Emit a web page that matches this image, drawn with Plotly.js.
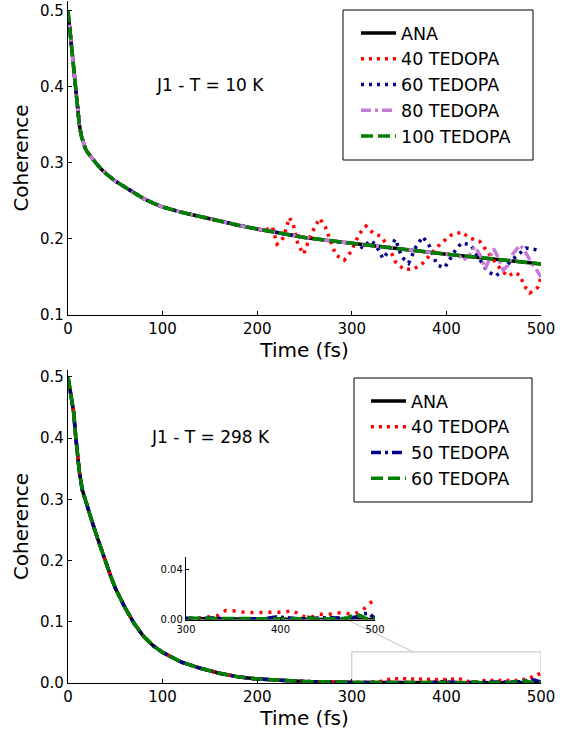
<!DOCTYPE html>
<html>
<head>
<meta charset="utf-8">
<script src="https://cdn.plot.ly/plotly-3.0.1.min.js"></script>
<style>html,body{margin:0;padding:0;background:#fff;}#chart{width:562px;height:731px;}</style>
</head>
<body>
<div id="chart"></div>
<script>
// ---------- DATA: J1 - T = 10 K ----------
const timeAna10 = [0,2,4,6,8,10,12,14,16,18,20,25,30,35,40,50,60,70,80,90,100,120,140,160,180,200,225,250,275,300,350,400,450,500];
const ana10     = [0.500,0.476,0.452,0.426,0.398,0.372,0.350,0.336,0.326,0.320,0.315,0.306,0.299,0.292,0.286,0.276,0.268,0.260,0.253,0.247,0.242,0.235,0.229,0.223,0.218,0.213,0.207,0.202,0.198,0.194,0.187,0.180,0.173,0.167];

// 40 TEDOPA (10 K): deviates from ANA after ~207 fs
const time40_10 = [207,213,216,221,225,228,232,234,238,243,249,256,261,266,272,283,292,299,308,315,323,330,339,346,355,365,375,389,397,405,416,425,435,446,458,465,472,478,482,488,494,497,500];
const ted40_10  = [0.211,0.214,0.216,0.193,0.196,0.203,0.222,0.228,0.219,0.193,0.180,0.203,0.216,0.227,0.216,0.179,0.172,0.183,0.207,0.217,0.207,0.204,0.190,0.170,0.160,0.160,0.168,0.188,0.197,0.205,0.209,0.201,0.197,0.179,0.159,0.151,0.156,0.152,0.139,0.129,0.133,0.137,0.150];

// 60 TEDOPA (10 K): deviates after ~305 fs
const time60_10 = [305,312,319,325,333,340,346,353,360,368,375,382,390,398,409,416,426,432,443,452,460,468,476,484,494,500];
const ted60_10  = [0.193,0.188,0.198,0.193,0.174,0.186,0.200,0.176,0.168,0.190,0.203,0.191,0.166,0.162,0.184,0.195,0.192,0.179,0.158,0.151,0.160,0.171,0.179,0.188,0.186,0.183];

// 80 TEDOPA (10 K): deviates after ~405 fs
const time80_10 = [405,412,418,424,430,436,441,445,450,455,460,465,470,478,484,490,495,500];
const ted80_10  = [0.179,0.180,0.172,0.178,0.190,0.178,0.161,0.172,0.187,0.175,0.159,0.165,0.180,0.192,0.182,0.168,0.160,0.150];

// 100 TEDOPA (10 K) coincides with ANA
const time100_10 = timeAna10;
const ted100_10  = ana10;

// ---------- DATA: J1 - T = 298 K ----------
const timeAna298 = [0,2,4,6,8,10,12,15,20,25,30,35,40,45,50,60,70,80,90,100,120,140,160,180,200,225,250,300,350,400,450,500];
const ana298     = [0.500,0.482,0.463,0.442,0.405,0.372,0.345,0.316,0.289,0.266,0.242,0.219,0.197,0.175,0.155,0.124,0.097,0.076,0.061,0.050,0.034,0.024,0.016,0.010,0.0065,0.004,0.0025,0.001,0.0005,0.0003,0.0002,0.0001];

// 40 TEDOPA (298 K): deviates after ~300 fs
const time40_298 = [310,323,333,342,353,363,373,384,394,404,413,422,431,441,451,460,468,477,486,494,500];
const ted40_298  = [0.0008,0.002,0.003,0.0072,0.0068,0.0056,0.0055,0.0057,0.0057,0.0058,0.0073,0.0027,0.0015,0.0041,0.0041,0.0055,0.005,0.0042,0.0068,0.0128,0.016];

// 50 TEDOPA (298 K)
const time50_298 = [320,330,340,380,395,405,420,450,470,480,487,493,497,500];
const ted50_298  = [0.0008,0.0015,0.0005,0.0005,0.002,0.0015,0.0005,0.0015,0.001,0.002,0.0045,0.005,0.003,0.001];

// 60 TEDOPA (298 K)
const time60_298 = [420,428,436,470,478,485,490,500];
const ted60_298  = [0.0005,0.002,0.0005,0.0008,0.004,0.003,0.0008,0.0008];

const yTicksTop = [0.1,0.2,0.3,0.4,0.5];
const yTicksBot = [0.0,0.1,0.2,0.3,0.4,0.5];
const xTicks    = [0,100,200,300,400,500];
const xTicksInset = [300,400,500];
const yTicksInset = [0.00,0.04];

// join ANA values before a start time with the read TEDOPA values
function joined(tAna, vAna, tDev, vDev) {
  const t = [], v = [];
  for (let i = 0; i < tAna.length; i++) if (tAna[i] < tDev[0]) { t.push(tAna[i]); v.push(vAna[i]); }
  return { x: t.concat(tDev), y: v.concat(vDev) };
}

const RED = '#ff0000', NAVY = '#00008b', ORCHID = '#c77bd9', GREEN = '#008000';
const LW = 3.5;

const s40_10 = joined(timeAna10, ana10, time40_10, ted40_10);
const s60_10 = joined(timeAna10, ana10, time60_10, ted60_10);
const s80_10 = joined(timeAna10, ana10, time80_10, ted80_10);
const s40_298 = joined(timeAna298, ana298, time40_298, ted40_298);
const s50_298 = joined(timeAna298, ana298, time50_298, ted50_298);
const s60_298 = joined(timeAna298, ana298, time60_298, ted60_298);

const traces = [];
// top panel
traces.push({x: timeAna10, y: ana10, xaxis:'x', yaxis:'y', mode:'lines', name:'ANA', legend:'legend', line:{color:'#000', width:LW}});
traces.push({x: s40_10.x, y: s40_10.y, xaxis:'x', yaxis:'y', mode:'lines', name:'40 TEDOPA', legend:'legend', line:{color:RED, width:LW, dash:'3px,5px'}});
traces.push({x: s60_10.x, y: s60_10.y, xaxis:'x', yaxis:'y', mode:'lines', name:'60 TEDOPA', legend:'legend', line:{color:NAVY, width:LW, dash:'3px,5px'}});
traces.push({x: s80_10.x, y: s80_10.y, xaxis:'x', yaxis:'y', mode:'lines', name:'80 TEDOPA', legend:'legend', line:{color:ORCHID, width:LW, dash:'10px,4px,3px,4px'}});
traces.push({x: time100_10, y: ted100_10, xaxis:'x', yaxis:'y', mode:'lines', name:'100 TEDOPA', legend:'legend', line:{color:GREEN, width:LW, dash:'12px,5px'}});

// bottom panel
traces.push({x: timeAna298, y: ana298, xaxis:'x2', yaxis:'y2', mode:'lines', name:'ANA', legend:'legend2', line:{color:'#000', width:LW}});
traces.push({x: s40_298.x, y: s40_298.y, xaxis:'x2', yaxis:'y2', mode:'lines', name:'40 TEDOPA', legend:'legend2', line:{color:RED, width:LW, dash:'3px,5px'}});
traces.push({x: s50_298.x, y: s50_298.y, xaxis:'x2', yaxis:'y2', mode:'lines', name:'50 TEDOPA', legend:'legend2', line:{color:NAVY, width:LW, dash:'10px,4px,3px,4px'}});
traces.push({x: s60_298.x, y: s60_298.y, xaxis:'x2', yaxis:'y2', mode:'lines', name:'60 TEDOPA', legend:'legend2', line:{color:GREEN, width:LW, dash:'12px,5px'}});

// inset (same bottom-panel data)
traces.push({x: timeAna298, y: ana298, xaxis:'x3', yaxis:'y3', mode:'lines', showlegend:false, line:{color:'#000', width:3}});
traces.push({x: s40_298.x, y: s40_298.y, xaxis:'x3', yaxis:'y3', mode:'lines', showlegend:false, line:{color:RED, width:3.5, dash:'3px,6px'}});
traces.push({x: s50_298.x, y: s50_298.y, xaxis:'x3', yaxis:'y3', mode:'lines', showlegend:false, line:{color:NAVY, width:3.5, dash:'10px,4px,3px,4px'}});
traces.push({x: s60_298.x, y: s60_298.y, xaxis:'x3', yaxis:'y3', mode:'lines', showlegend:false, line:{color:GREEN, width:3.5, dash:'12px,5px'}});

const FONT = 'DejaVu Sans, Liberation Sans, sans-serif';
const W = 562, H = 731;
const px = v => v / W;
const py = v => (H - v) / H;

const axBase = {
  showline:true, linecolor:'#000', linewidth:1.2, showgrid:false, zeroline:false,
  ticks:'inside', ticklen:4, tickcolor:'#000', tickwidth:1,
  tickfont:{family:FONT, size:15, color:'#000'}
};

const legBase = {xanchor:'left', yanchor:'top', bgcolor:'rgba(0,0,0,0)', borderwidth:0,
  font:{family:FONT, size:17.5, color:'#000'}, traceorder:'normal', itemwidth:35};

const layout = {
  width: W, height: H,
  margin:{l:0, r:0, t:0, b:0},
  paper_bgcolor:'#fff', plot_bgcolor:'rgba(0,0,0,0)',
  font:{family:FONT, color:'#000'},
  xaxis: Object.assign({}, axBase, {domain:[px(68), px(541)], anchor:'y', range:[0,500], tickvals:xTicks,
    title:{text:'Time (fs)', font:{family:FONT, size:20, color:'#000'}, standoff:2}}),
  yaxis: Object.assign({}, axBase, {domain:[py(315), py(1)], anchor:'x', range:[0.1,0.5128], tickvals:yTicksTop, ticktext:yTicksTop.map(v=>v.toFixed(1)),
    title:{text:'Coherence', font:{family:FONT, size:20, color:'#000'}, standoff:6}}),
  xaxis2: Object.assign({}, axBase, {domain:[px(68), px(541)], anchor:'y2', range:[0,500], tickvals:xTicks,
    title:{text:'Time (fs)', font:{family:FONT, size:20, color:'#000'}, standoff:2}}),
  yaxis2: Object.assign({}, axBase, {domain:[py(683), py(370)], anchor:'x2', range:[0,0.5114], tickvals:yTicksBot, ticktext:yTicksBot.map(v=>v.toFixed(1)),
    title:{text:'Coherence', font:{family:FONT, size:20, color:'#000'}, standoff:6}}),
  xaxis3: Object.assign({}, axBase, {domain:[px(186), px(375)], anchor:'y3', range:[300,500], tickvals:xTicksInset, ticklen:3,
    tickfont:{family:FONT, size:10, color:'#000'}}),
  yaxis3: Object.assign({}, axBase, {domain:[py(619.5), py(557)], anchor:'x3', range:[0,0.05], tickvals:yTicksInset, ticktext:yTicksInset.map(v=>v.toFixed(2)), ticklen:3,
    tickfont:{family:FONT, size:10, color:'#000'}}),
  legend: Object.assign({}, legBase, {x:px(356), y:py(15)}),
  legend2: Object.assign({}, legBase, {x:px(366), y:py(383)}),
  annotations:[
    {text:'J1 - T = 10 K', xref:'paper', yref:'paper', x:px(210), y:py(85), xanchor:'center', yanchor:'middle', showarrow:false, font:{family:FONT, size:17, color:'#000'}},
    {text:'J1 - T = 298 K', xref:'paper', yref:'paper', x:px(210), y:py(437), xanchor:'center', yanchor:'middle', showarrow:false, font:{family:FONT, size:17, color:'#000'}}
  ],
  shapes:[
    {type:'rect', xref:'x2', yref:'y2', x0:300, x1:500, y0:0, y1:0.0507, line:{color:'#cccccc', width:1.2}, fillcolor:'rgba(0,0,0,0)', layer:'below'},
    {type:'line', xref:'paper', yref:'paper', x0:px(346), y0:py(619), x1:px(413), y1:py(652), line:{color:'#cccccc', width:1.2}, layer:'below'},
    // legend frames
    {type:'rect', xref:'paper', yref:'paper', x0:px(343), x1:px(533), y0:py(160), y1:py(10), line:{color:'#000', width:1}, fillcolor:'#fff', layer:'above'},
    {type:'rect', xref:'paper', yref:'paper', x0:px(354), x1:px(532), y0:py(502), y1:py(378), line:{color:'#000', width:1}, fillcolor:'#fff', layer:'above'}
  ]
};

Plotly.newPlot('chart', traces, layout, {staticPlot:true, displayModeBar:false});
</script>
</body>
</html>
